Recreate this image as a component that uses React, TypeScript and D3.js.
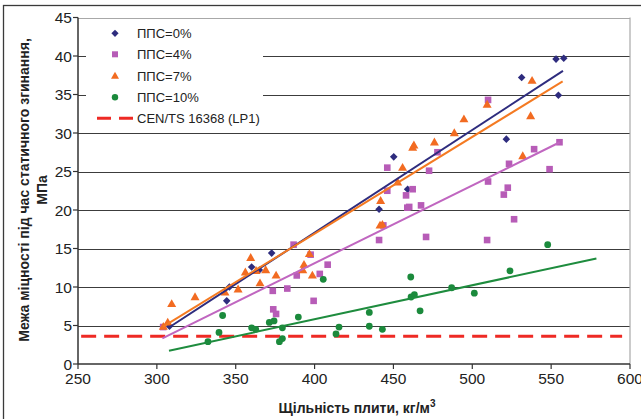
import * as d3 from "d3";

// ППС=0%
const x0 = [308, 344.3, 346, 360.1, 365, 372.8, 440.9, 450.2, 459, 521.6, 531.3, 553.1, 554.6, 558];
const y0 = [4.9, 8.2, 10.0, 12.6, 12.2, 14.4, 20.1, 26.9, 22.7, 29.2, 37.2, 39.6, 34.9, 39.7];

// ППС=4%
const x4 = [304, 373.5, 373.8, 375.6, 382.7, 386.7, 388.7, 397.5, 399.4, 403.3, 408.3, 440.9, 443.6, 446.1, 446.1, 458, 458.8, 460, 462.2, 467.5, 470.7, 472.6, 477.9, 510, 510, 509.4, 520, 522.5, 523.3, 526.5, 539.2, 549, 555.3];
const y4 = [4.8, 9.5, 7.1, 6.5, 9.8, 15.5, 11.5, 14.2, 8.2, 11.7, 12.9, 16.1, 18.0, 25.5, 22.5, 21.9, 20.3, 20.4, 22.7, 20.6, 16.5, 25.1, 27.5, 34.3, 23.7, 16.1, 22.0, 22.9, 26.0, 18.8, 27.9, 25.3, 28.8];

// ППС=7%
const x7 = [304.1, 306.9, 309.4, 324.2, 343.2, 351.5, 356.1, 359.5, 362.9, 365.4, 369, 375.6, 392.5, 393.3, 396.7, 398.6, 441.9, 441.5, 443, 452.7, 455.8, 462.2, 463, 476, 488.6, 494.7, 509.4, 532, 537, 537.9];
const y7 = [4.85, 5.4, 7.8, 8.7, 9.3, 9.7, 11.9, 13.8, 12.1, 10.5, 12.2, 11.5, 12.2, 12.9, 14.3, 11.5, 21.2, 18.0, 18.1, 23.6, 25.5, 28.1, 28.4, 28.8, 30.0, 31.8, 33.7, 27.0, 32.2, 36.8];

// ППС=10%
const x10 = [332.4, 339.4, 341.7, 360.1, 362.7, 371.3, 374.3, 377.7, 379.6, 379.6, 389.7, 405.5, 413.6, 415.5, 434.7, 434.7, 443, 461, 461.2, 463.3, 466.9, 486.9, 501.3, 523.9, 547.8];
const y10 = [2.9, 4.1, 6.3, 4.7, 4.5, 5.4, 5.6, 2.9, 3.3, 4.7, 6.1, 11.0, 3.9, 4.8, 6.7, 4.9, 4.5, 11.3, 8.7, 9.0, 6.9, 9.9, 9.2, 12.1, 15.5];

// trend lines: [xStart, yStart, xEnd, yEnd]
const trend0 = [307.9, 4.77, 557.5, 38.07];
const trend4 = [303.5, 3.34, 555.5, 28.8];
const trend7 = [304, 4.85, 557.3, 36.7];
const trend10 = [307.7, 1.73, 578.7, 13.7];

const cenLevel = 3.6;
const cenRange = [252, 595];

const xTicks = [250, 300, 350, 400, 450, 500, 550, 600];
const yTicks = [0, 5, 10, 15, 20, 25, 30, 35, 40, 45];

const legendLabels = ["ППС=0%", "ППС=4%", "ППС=7%", "ППС=10%", "CEN/TS 16368 (LP1)"];

const C_NAVY = "#2E2C7E";
const C_PURPLE = "#B75CB7";
const C_ORANGE = "#F26B21";
const C_GREEN = "#1B8A3C";
const C_RED = "#EE2A24";

const W = 641, H = 419;
const m = { left: 78, right: 11, top: 17.5, bottom: 55 };
const FONT = "'Liberation Sans', Arial, sans-serif";

function Diamond({ x, y, r = 3.8 }: { x: number; y: number; r?: number }) {
  return <path d={`M${x},${y - r}L${x + r},${y}L${x},${y + r}L${x - r},${y}Z`} fill={C_NAVY} />;
}
function Square({ x, y, s = 6.6 }: { x: number; y: number; s?: number }) {
  return <rect x={x - s / 2} y={y - s / 2} width={s} height={s} fill={C_PURPLE} />;
}
function Triangle({ x, y, s = 9 }: { x: number; y: number; s?: number }) {
  const h = s * 0.88;
  return <path d={`M${x},${y - h * 0.6}L${x + s / 2},${y + h * 0.4}L${x - s / 2},${y + h * 0.4}Z`} fill={C_ORANGE} />;
}
function Dot({ x, y }: { x: number; y: number }) {
  return <circle cx={x} cy={y} r={3.4} fill={C_GREEN} />;
}

export default function App() {
  const x = d3.scaleLinear().domain([250, 600]).range([m.left, W - m.right]);
  const y = d3.scaleLinear().domain([0, 45]).range([H - m.bottom, m.top]);
  const line = d3.line<[number, number]>().x(d => x(d[0])).y(d => y(d[1]));
  const tl = (t: number[]) => line([[t[0], t[1]], [t[2], t[3]]]) || "";

  const x0p = x(250), x1p = x(600), yb = y(0), yt = y(45);
  const legendY = [33.3, 54.3, 76, 97.3, 118.3];

  return (
    <svg width={W} height={H} style={{ position: "absolute", left: 0, top: 0, background: "#fff" }} fontFamily={FONT}>
      <rect x={3.5} y={5.5} width={W + 20} height={H + 20} fill="none" stroke="#3a3a3a" strokeWidth={1.3} />

      {/* grid */}
      {yTicks.filter(t => t > 0).map(t => (
        <line key={t} x1={x0p} x2={x1p} y1={Math.round(y(t)) + 0.5} y2={Math.round(y(t)) + 0.5}
          stroke={t === 45 ? "#a8a8a8" : "#3c3c3c"} strokeWidth={1} />
      ))}
      <line x1={x1p} x2={x1p} y1={yt} y2={yb} stroke="#a8a8a8" strokeWidth={1.2} />

      {/* legend box background */}
      <rect x={86} y={22} width={177} height={106} fill="#fff" />

      {/* CEN line */}
      <line x1={x(cenRange[0])} x2={x(cenRange[1])} y1={y(cenLevel)} y2={y(cenLevel)}
        stroke={C_RED} strokeWidth={3} strokeDasharray="15 8" />

      {/* markers */}
      {x0.map((v, i) => <Diamond key={"d" + i} x={x(v)} y={y(y0[i])} />)}
      {x4.map((v, i) => <Square key={"s" + i} x={x(v)} y={y(y4[i])} />)}
      {x7.map((v, i) => <Triangle key={"t" + i} x={x(v)} y={y(y7[i])} />)}
      {x10.map((v, i) => <Dot key={"c" + i} x={x(v)} y={y(y10[i])} />)}

      {/* trend lines */}
      <path d={tl(trend0)} stroke={C_NAVY} strokeWidth={2} fill="none" />
      <path d={tl(trend4)} stroke="#C066C0" strokeWidth={2} fill="none" />
      <path d={tl(trend7)} stroke="#F47A22" strokeWidth={2} fill="none" />
      <path d={tl(trend10)} stroke="#1E8C3E" strokeWidth={2} fill="none" />

      {/* axes */}
      <line x1={x0p} x2={x0p} y1={yt} y2={yb} stroke="#333" strokeWidth={1.5} />
      <line x1={x0p} x2={x1p} y1={yb} y2={yb} stroke="#333" strokeWidth={1.5} />
      {yTicks.map(t => (
        <g key={"yt" + t}>
          <line x1={x0p - 5} x2={x0p} y1={y(t)} y2={y(t)} stroke="#333" strokeWidth={1.2} />
          <text x={x0p - 6} y={y(t)} dy="0.36em" textAnchor="end" fontSize={15.5} fill="#222">{t}</text>
        </g>
      ))}
      {xTicks.map(t => (
        <g key={"xt" + t}>
          <line x1={x(t)} x2={x(t)} y1={yb} y2={yb + 5} stroke="#333" strokeWidth={1.2} />
          <text x={x(t)} y={384} textAnchor="middle" fontSize={15.5} fill="#222">{t}</text>
        </g>
      ))}

      {/* legend */}
      <Diamond x={115} y={legendY[0]} r={3.6} />
      <Square x={115} y={legendY[1]} s={6} />
      <Triangle x={115} y={legendY[2]} s={8} />
      <circle cx={115} cy={legendY[3]} r={3.2} fill={C_GREEN} />
      <line x1={97} x2={133} y1={legendY[4]} y2={legendY[4]} stroke={C_RED} strokeWidth={3} strokeDasharray="14 8" />
      {legendLabels.map((l, i) => (
        <text key={l} x={137} y={legendY[i]} dy="0.36em" fontSize={13} fill="#222">{l}</text>
      ))}

      {/* axis titles */}
      <text transform="translate(29,190) rotate(-90)" textAnchor="middle" fontSize={14} fontWeight="bold" fill="#222">
        Межа міцності під час статичного згинання,
      </text>
      <text transform="translate(47,190) rotate(-90)" textAnchor="middle" fontSize={14} fontWeight="bold" fill="#222">
        МПа
      </text>
      <text x={357} y={413} textAnchor="middle" fontSize={14} fontWeight="bold" fill="#222">
        Щільність плити, кг/м<tspan fontSize={10} dy={-6}>3</tspan>
      </text>
    </svg>
  );
}
